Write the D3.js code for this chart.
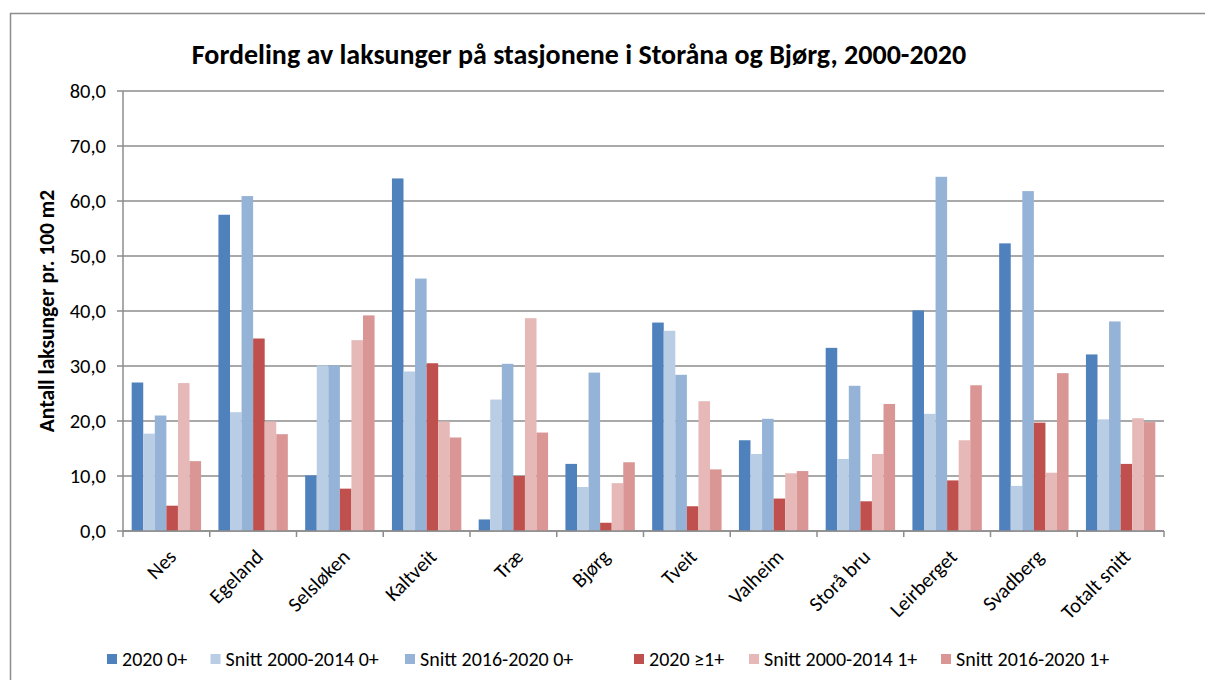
<!DOCTYPE html>
<html>
<head>
<meta charset="utf-8">
<script src="https://cdn.jsdelivr.net/npm/d3@7"></script>
<style>
body { margin: 0; background: #fff; }
svg text { font-family: Carlito, Calibri, Lato, sans-serif; fill: #000; }
</style>
</head>
<body>
<svg id="chart" width="1205" height="680"></svg>
<script>
// stations (x categories)
var stations = ["Nes", "Egeland", "Selsløken", "Kaltveit", "Træ", "Bjørg", "Tveit",
    "Valheim", "Storå bru", "Leirberget", "Svadberg", "Totalt snitt"];

var seriesNames = ["2020 0+", "Snitt 2000-2014 0+", "Snitt 2016-2020 0+",
    "2020 ≥1+", "Snitt 2000-2014 1+", "Snitt 2016-2020 1+"];

var seriesColors = ["#4f81bd", "#b9cde5", "#95b3d7", "#c0504d", "#e6b9b8", "#d99694"];

// values per series, one per station
var v2020_0 =      [27.0, 57.5, 10.1, 64.1,  2.1, 12.2, 37.9, 16.5, 33.3, 40.1, 52.3, 32.1];
var snitt0014_0 =  [17.7, 21.6, 30.1, 29.0, 23.9,  8.0, 36.4, 14.0, 13.1, 21.3,  8.2, 20.3];
var snitt1620_0 =  [21.0, 60.9, 30.1, 45.9, 30.4, 28.8, 28.4, 20.4, 26.4, 64.4, 61.8, 38.1];
var v2020_1 =      [ 4.6, 35.0,  7.7, 30.5, 10.0,  1.5,  4.5,  5.9,  5.4,  9.2, 19.7, 12.2];
var snitt0014_1 =  [26.9, 19.9, 34.7, 19.9, 38.7,  8.7, 23.6, 10.5, 14.0, 16.5, 10.6, 20.5];
var snitt1620_1 =  [12.7, 17.6, 39.2, 17.0, 17.9, 12.5, 11.2, 10.9, 23.1, 26.5, 28.7, 19.8];

var yTicks = [0, 10, 20, 30, 40, 50, 60, 70, 80];

var title = "Fordeling av laksunger på stasjonene i Storåna og Bjørg, 2000-2020";
var yTitle = "Antall laksunger pr. 100 m2";

function build_chart()
{
    var svg = d3.select("#chart");
    var allValues = [v2020_0, snitt0014_0, snitt1620_0, v2020_1, snitt0014_1, snitt1620_1];

    var left = 123, right = 1164, top = 91, bottom = 531;

    // outer frame (runs off the right and bottom edge like the screenshot)
    svg.append("rect")
        .attr("x", 10.5).attr("y", 13.5)
        .attr("width", 1300).attr("height", 800)
        .attr("fill", "none")
        .attr("stroke", "#8c8c8c")
        .attr("stroke-width", 1.5);

    var x = d3.scaleBand().domain(stations).range([left, right]);
    var bw = x.bandwidth();
    var x1 = d3.scaleBand().domain(seriesNames).range([bw * 0.1, bw * 0.9]);
    var y = d3.scaleLinear().domain([0, 80]).range([bottom, top]);

    var fmt = d3.formatLocale({decimal: ",", thousands: " ", grouping: [3], currency: ["", " kr"]}).format(".1f");

    // gridlines
    svg.append("g").selectAll("line")
        .data(yTicks)
        .enter().append("line")
        .attr("x1", left - 6).attr("x2", right)
        .attr("y1", function(d) { return y(d); })
        .attr("y2", function(d) { return y(d); })
        .attr("stroke", "#8c8c8c")
        .attr("stroke-width", 1.5);

    svg.append("g").selectAll("text")
        .data(yTicks)
        .enter().append("text")
        .attr("x", left - 17)
        .attr("y", function(d) { return y(d); })
        .attr("dy", "0.35em")
        .attr("text-anchor", "end")
        .style("font-size", "20.5px")
        .text(function(d) { return fmt(d); });

    // bars
    var groups = svg.append("g").selectAll("g")
        .data(seriesNames)
        .enter().append("g")
        .attr("fill", function(d, i) { return seriesColors[i]; });

    groups.selectAll("rect")
        .data(function(d, i) {
            return allValues[i].map(function(v, j) { return {s: d, c: stations[j], v: v}; });
        })
        .enter().append("rect")
        .attr("x", function(d) { return x(d.c) + x1(d.s); })
        .attr("width", x1.bandwidth())
        .attr("y", function(d) { return y(d.v); })
        .attr("height", function(d) { return y(0) - y(d.v); });

    // axis lines
    svg.append("line")
        .attr("x1", left).attr("x2", left)
        .attr("y1", top).attr("y2", bottom)
        .attr("stroke", "#8c8c8c").attr("stroke-width", 1.5);
    svg.append("line")
        .attr("x1", left).attr("x2", right)
        .attr("y1", bottom).attr("y2", bottom)
        .attr("stroke", "#8c8c8c").attr("stroke-width", 1.5);

    var bounds = stations.map(function(c) { return x(c); }).concat([right]);
    svg.append("g").selectAll("line")
        .data(bounds)
        .enter().append("line")
        .attr("x1", function(d) { return d; })
        .attr("x2", function(d) { return d; })
        .attr("y1", bottom).attr("y2", bottom + 6)
        .attr("stroke", "#8c8c8c").attr("stroke-width", 1.5);

    // station labels
    svg.append("g").selectAll("text")
        .data(stations)
        .enter().append("text")
        .attr("transform", function(d) {
            return "translate(" + (x(d) + bw / 2 + 1) + "," + (bottom + 17) + ") rotate(-45)";
        })
        .attr("dy", "0.7em")
        .attr("text-anchor", "end")
        .style("font-size", "20.5px")
        .text(function(d) { return d; });

    // titles
    svg.append("text")
        .attr("x", 579).attr("y", 64)
        .attr("text-anchor", "middle")
        .style("font-size", "28px")
        .style("font-weight", "bold")
        .text(title);

    svg.append("text")
        .attr("transform", "translate(54," + ((top + bottom) / 2) + ") rotate(-90)")
        .attr("text-anchor", "middle")
        .style("font-size", "21.5px")
        .style("font-weight", "bold")
        .text(yTitle);

    // legend, Excel spreads the entries out a bit unevenly
    var legendX = [107, 210.5, 405, 634, 749, 941];
    var legend = svg.append("g");
    seriesNames.forEach(function(name, i) {
        legend.append("rect")
            .attr("x", legendX[i]).attr("y", 654)
            .attr("width", 10).attr("height", 10)
            .attr("fill", seriesColors[i]);
        legend.append("text")
            .attr("x", legendX[i] + 15).attr("y", 659)
            .attr("dy", "0.35em")
            .style("font-size", "20px")
            .text(name);
    });
}

build_chart();
</script>
</body>
</html>
